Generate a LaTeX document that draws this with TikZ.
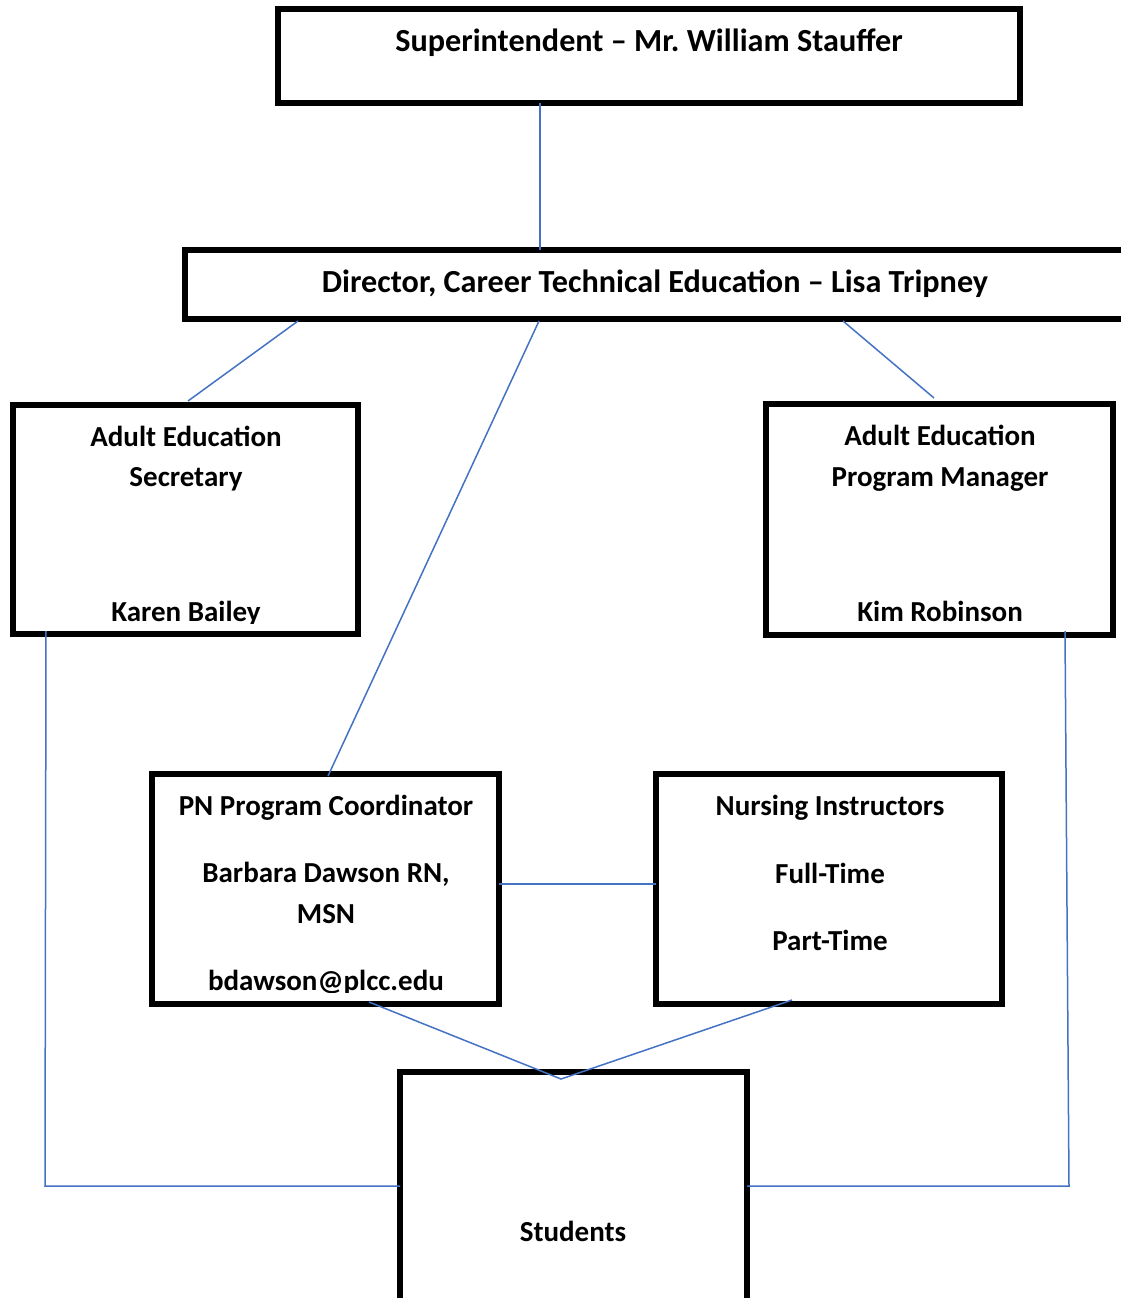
\documentclass[tikz,border=0pt]{standalone}
\usepackage{fontspec}
\setmainfont{Carlito}
\frenchspacing
\begin{document}
\begin{tikzpicture}[x=1pt,y=-1pt,
  box/.style={draw=black,line width=5.5pt,rectangle,inner sep=0pt,outer sep=0pt},
  lbl/.style={font=\bfseries\fontsize{29}{34}\selectfont,anchor=base,inner sep=0pt},
  biglbl/.style={lbl,font=\bfseries\fontsize{32.2}{38}\selectfont},
  conn/.style={draw={rgb,255:red,68;green,114;blue,196},line width=1.5pt}]
\useasboundingbox (0,0) rectangle (1121,1298);
\fill[white] (0,0) rectangle (1121,1298);
% boxes
\node[box,minimum width=742,minimum height=94] (sup) at (649,56) {};
\node[box,minimum width=955,minimum height=69] (dir) at (662.5,284.5) {};
\node[box,minimum width=345,minimum height=229] (sec) at (185.5,519.5) {};
\node[box,minimum width=347,minimum height=231] (mgr) at (939.5,519.5) {};
\node[box,minimum width=347,minimum height=230] (pn) at (325.5,889) {};
\node[box,minimum width=346,minimum height=230] (nur) at (829,889) {};
\node[box,minimum width=347,minimum height=248] (stu) at (573.5,1196) {};
% labels
\node[biglbl] (tsup) at (649,52) {Superintendent – Mr. William Stauffer};
\node[biglbl] (tdir) at (655,292) {Director, Career Technical Education – Lisa Tripney};
\node[lbl] (tsec1) at (186,446) {Adult Education};
\node[lbl] (tsec2) at (186,486) {Secretary};
\begin{scope}
\clip (13,405) rectangle (358,623.5);
\node[lbl] (tsec3) at (186,621.5) {Karen Bailey};
\end{scope}
\node[lbl] (tmgr1) at (940,445) {Adult Education};
\node[lbl] (tmgr2) at (940,486) {Program Manager};
\node[lbl] (tmgr3) at (940,621) {Kim Robinson};
\node[lbl] (tpn1) at (326,815) {PN Program Coordinator};
\node[lbl] (tpn2) at (326,882) {Barbara Dawson RN,};
\node[lbl] (tpn3) at (326,923) {MSN};
\begin{scope}
\clip (152,774) rectangle (499,992);
\node[lbl] (tpn4) at (326,990) {bdawson@plcc.edu};
\end{scope}
\node[lbl] (tnur1) at (830,815) {Nursing Instructors};
\node[lbl] (tnur2) at (830,883) {Full-Time};
\node[lbl] (tnur3) at (830,950) {Part-Time};
\node[lbl] (tstu) at (573,1241) {Students};
% connectors
\coordinate (jl) at (45,1186);
\coordinate (jr) at (1069,1186);
\coordinate (apex) at (561,1079);
\draw[conn] (sup.south -| 540,0) -- (dir.north -| 540,0);
\draw[conn] (298,321) -- (188,401);
\draw[conn] (539,321) -- (328,776);
\draw[conn] (843,321) -- (934,398);
\draw[conn] (46,631) -- (jl) -- (stu.west |- jl);
\draw[conn] (1065,631) -- (jr) -- (stu.east |- jr);
\draw[conn] (pn.east |- 0,884) -- (nur.west |- 0,884);
\draw[conn] (369,1002) -- (apex) -- (792,1000);
\end{tikzpicture}
\end{document}
